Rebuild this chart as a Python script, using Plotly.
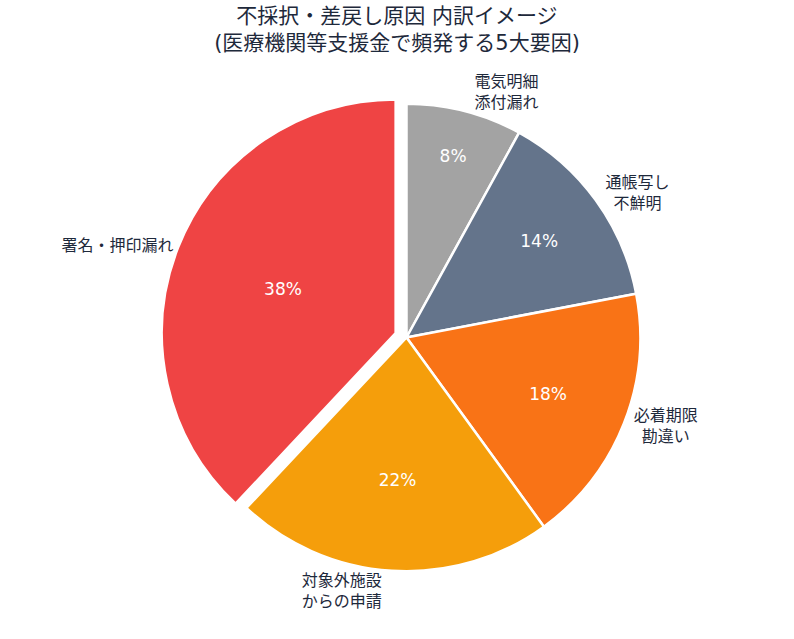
import plotly.graph_objects as go

labels = ["電気明細<br>添付漏れ", "通帳写し<br>不鮮明", "必着期限<br>勘違い", "対象外施設<br>からの申請", "署名・押印漏れ"]
values = [8, 14, 18, 22, 38]
colors = ["#a3a3a3", "#64748b", "#f97316", "#f59e0b", "#ef4444"]
pulls = [0, 0, 0, 0, 0.05]

FONT = "DejaVu Sans, Noto Sans CJK JP, sans-serif"

fig = go.Figure()
fig.add_trace(go.Pie(
    labels=labels, values=values, sort=False, direction="clockwise", rotation=0,
    pull=pulls,
    marker=dict(colors=colors, line=dict(color="white", width=2.5)),
    textinfo="percent", textposition="inside", insidetextorientation="horizontal",
    insidetextfont=dict(color="white", size=17, family=FONT),
    showlegend=False, hoverinfo="label+percent",
))
fig.add_trace(go.Pie(
    labels=labels, values=values, sort=False, direction="clockwise", rotation=0,
    pull=pulls,
    marker=dict(colors=["rgba(0,0,0,0)"] * len(values), line=dict(width=0)),
    textinfo="label", textposition="outside",
    outsidetextfont=dict(color="#1e293b", size=16, family=FONT),
    showlegend=False, hoverinfo="skip",
))

fig.update_layout(
    width=794, height=639,
    paper_bgcolor="white", plot_bgcolor="white",
    font=dict(family=FONT, color="#1e293b"),
    title=dict(
        text="不採択・差戻し原因 内訳イメージ<br>(医療機関等支援金で頻発する5大要因)",
        x=0.5, xanchor="center", y=0.964, yanchor="top",
        font=dict(size=21, color="#1e293b", family=FONT),
    ),
    margin=dict(t=92, b=0, l=70, r=126),
)

fig.write_html("out.html")
